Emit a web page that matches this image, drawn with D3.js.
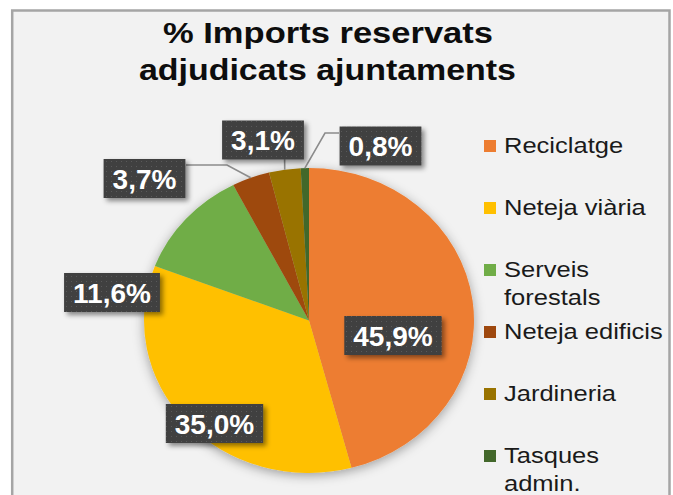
<!DOCTYPE html>
<html><head><meta charset="utf-8">
<script src="https://cdn.jsdelivr.net/npm/d3@7"></script>
<style>html,body{margin:0;padding:0;background:#fff;}svg{display:block;}</style>
</head><body>
<script>
// ---- data ----
const categories = ["Reciclatge","Neteja viària","Serveis forestals","Neteja edificis","Jardineria","Tasques admin."];
const values = [45.9, 35.0, 11.6, 3.7, 3.1, 0.8];
const colors = ["#ED7D31","#FFC000","#70AD47","#9E480E","#997300","#43682B"];
const titleLines = ["% Imports reservats","adjudicats ajuntaments"];

// ---- layout ----
const W = 673, H = 495;
const cx = 309, cy = 320.5, R = 165, yScale = 152.5/165;
const labelPos = [[393,335.5],[214.5,423.5],[112,292.5],[144.5,178.5],[263,140],[380.5,146]];
// leader elbows (null = no leader)
const leaders = [null,null,null,{elbow:[227,165],end:[186,165]},{elbow:null,end:[284.6,159]},{elbow:[325,133],end:[339,133]}];

const fmt = v => d3.format(".1f")(v).replace(".", ",") + "%";
const FONT = "'Liberation Sans', Arial, Helvetica, sans-serif";

const svg = d3.select("body").append("svg").attr("width", W).attr("height", H);
const defs = svg.append("defs");
const f1 = defs.append("filter").attr("id","pieShadow").attr("x","-20%").attr("y","-20%").attr("width","140%").attr("height","140%");
f1.append("feDropShadow").attr("dx",0).attr("dy",3).attr("stdDeviation",6).attr("flood-color","#000").attr("flood-opacity",0.35);
const f2 = defs.append("filter").attr("id","boxShadow").attr("x","-20%").attr("y","-30%").attr("width","150%").attr("height","170%");
f2.append("feDropShadow").attr("dx",3).attr("dy",3).attr("stdDeviation",2.5).attr("flood-color","#000").attr("flood-opacity",0.45);
const pat = defs.append("pattern").attr("id","dots").attr("width",5).attr("height",5).attr("patternUnits","userSpaceOnUse");
pat.append("rect").attr("width",5).attr("height",5).attr("fill","#404040");
pat.append("rect").attr("x",1).attr("y",1).attr("width",1).attr("height",1).attr("fill","#5a5a5a");

// chart area
svg.append("rect").attr("x",12.2).attr("y",10.5).attr("width",657.3).attr("height",520)
  .attr("fill","#f2f2f2").attr("stroke","#a5a5a5").attr("stroke-width",2.5);

// title
const tWidths = [330, 377];
const tCenters = [328, 327.5];
const tBase = [43, 80];
titleLines.forEach((t,i) => {
  svg.append("text").attr("x", tCenters[i]).attr("y", tBase[i]).attr("text-anchor","middle")
    .attr("font-family", FONT).attr("font-weight","bold").attr("font-size", 29).attr("fill","#0d0d0d")
    .attr("textLength", tWidths[i]).attr("lengthAdjust","spacingAndGlyphs").text(t);
});

// pie
const pie = d3.pie().sort(null).value(d => d);
const arcs = pie(values);
const arc = d3.arc().innerRadius(0).outerRadius(R);
const edge = d3.arc().innerRadius(R).outerRadius(R);
const gp = svg.append("g").attr("transform", `translate(${cx},${cy}) scale(1,${yScale})`);
const gShadow = gp.append("g").attr("filter","url(#pieShadow)");
gShadow.selectAll("path").data(arcs).join("path").attr("d", arc).attr("fill", (d,i) => colors[i]);

// leader lines
arcs.forEach((d,i) => {
  const L = leaders[i]; if (!L) return;
  const c = edge.centroid(d);
  const p0 = [cx + c[0], cy + c[1]*yScale];
  const pts = [p0]; if (L.elbow) pts.push(L.elbow); pts.push(L.end);
  svg.append("path").attr("d", d3.line()(pts)).attr("fill","none").attr("stroke","#8c8c8c").attr("stroke-width",1.6);
});

// data labels
arcs.forEach((d,i) => {
  const [x,y] = labelPos[i];
  const g = svg.append("g");
  const rect = g.append("rect").attr("fill","url(#dots)").attr("filter","url(#boxShadow)");
  const t = g.append("text").attr("x", x).attr("y", y + 10).attr("text-anchor","middle")
    .attr("font-family", FONT).attr("font-weight","bold").attr("font-size", 28).attr("fill","#fff").text(fmt(values[i]));
  const w = t.node().getComputedTextLength() + 18;
  rect.attr("x", x - w/2).attr("y", y - 19.5).attr("width", w).attr("height", 39);
});

// legend
const legX = 484, legTextX = 504, legBase0 = 153, legStep = 62, legLine = 27.5, legMax = 166;
const legFont = 22, legSX = 1.16;
const leg = svg.append("g");
categories.forEach((c,i) => {
  const base = legBase0 + legStep*i;
  leg.append("rect").attr("x", legX).attr("y", base - 13).attr("width", 12).attr("height", 12).attr("fill", colors[i]);
  // wrap words
  const words = c.split(" ");
  const lines = []; let cur = "";
  const probe = leg.append("text").attr("font-family",FONT).attr("font-size",legFont);
  words.forEach(wd => {
    const test = cur ? cur + " " + wd : wd;
    probe.text(test);
    if (probe.node().getComputedTextLength()*legSX > legMax && cur) { lines.push(cur); cur = wd; } else cur = test;
  });
  lines.push(cur); probe.remove();
  lines.forEach((ln,j) => {
    leg.append("text").attr("transform", `translate(${legTextX},${base + j*legLine}) scale(${legSX},1)`)
      .attr("font-family", FONT).attr("font-size", legFont).attr("fill","#1a1a1a").text(ln);
  });
});
</script>
</body></html>
